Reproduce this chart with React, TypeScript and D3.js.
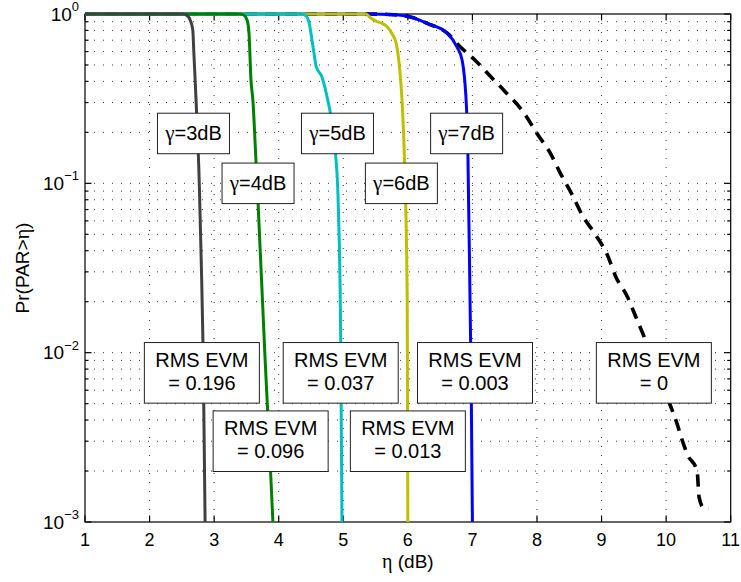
import React from "react";
import * as d3 from "d3";

// Canvas and plot frame
const WIDTH = 741;
const HEIGHT = 582;
const PLOT = { left: 85, right: 730.7, top: 14, bottom: 522 };

// Axis ticks
const etaTicks = [1, 2, 3, 4, 5, 6, 7, 8, 9, 10, 11];
const probDecades = [1e-3, 1e-2, 1e-1, 1];
const decadeExponents = ["\u22123", "\u22122", "\u22121", "0"];

// CCDF of the peak-to-average ratio for each clipping level (eta in dB, probability)
const gamma3Eta = [1, 2.52, 2.58, 2.63, 2.67, 2.685, 2.72, 2.77, 2.8, 2.83, 2.86];
const gamma3Prob = [1, 1, 0.98, 0.92, 0.8, 0.6, 0.31, 0.1, 0.035, 0.01, 0.001];

const gamma4Eta = [1, 3.4, 3.45, 3.51, 3.54, 3.57, 3.6, 3.65, 3.68, 3.79, 3.86, 3.91];
const gamma4Prob = [1, 1, 0.99, 0.92, 0.77, 0.41, 0.31, 0.13, 0.077, 0.009, 0.0026, 0.001];

const gamma5Eta = [1, 4.35, 4.4, 4.46, 4.54, 4.58, 4.67, 4.76, 4.8, 4.88, 4.92, 4.96, 4.98];
const gamma5Prob = [1, 1, 0.99, 0.92, 0.61, 0.49, 0.425, 0.31, 0.26, 0.15, 0.08, 0.012, 0.001];

const gamma6Eta = [1, 5.35, 5.42, 5.5, 5.6, 5.68, 5.75, 5.82, 5.87, 5.91, 5.95, 5.99, 6.0];
const gamma6Prob = [1, 1, 0.95, 0.91, 0.88, 0.84, 0.77, 0.67, 0.49, 0.31, 0.13, 0.02, 0.001];

const gamma7Eta = [1, 5.4, 5.78, 6.04, 6.3, 6.61, 6.76, 6.84, 6.88, 6.91, 6.93, 6.94, 6.98, 7.0];
const gamma7Prob = [1, 1, 0.99, 0.96, 0.88, 0.77, 0.64, 0.535, 0.41, 0.27, 0.151, 0.08, 0.007, 0.001];

// Unclipped signal
const unclippedEta = [
  1, 5.4, 5.78, 6.04, 6.3, 6.61, 6.81, 7.05, 7.3, 7.5, 7.8, 8.0, 8.21, 8.36, 8.55, 8.7,
  8.91, 9.09, 9.22, 9.4, 9.53, 9.66, 9.9, 10.1, 10.17, 10.23, 10.33, 10.48, 10.51, 10.59, 10.66,
];
const unclippedProb = [
  1, 1, 0.99, 0.96, 0.88, 0.77, 0.64, 0.53, 0.42, 0.35, 0.26, 0.197, 0.15, 0.115, 0.085, 0.065,
  0.0495, 0.0377, 0.0281, 0.0214, 0.0163, 0.0124, 0.007, 0.0045, 0.0038, 0.0032, 0.0025, 0.002,
  0.0014, 0.0012, 0.0012,
];

// Annotation texts
const gammaLabels = ["3dB", "4dB", "5dB", "6dB", "7dB"];
const evmValues = ["0.196", "0.096", "0.037", "0.013", "0.003", "0"];

// Annotation anchors (box centres, data coordinates)
const gammaAnchorEta = [2.68, 3.68, 4.91, 5.9, 6.91];
const gammaAnchorProb = [0.197, 0.1, 0.197, 0.1, 0.197];
const evmAnchorEta = [2.81, 3.875, 4.96, 6.0, 7.04, 9.81];
const evmAnchorProb = [0.0076, 0.003, 0.0076, 0.003, 0.0076, 0.0076];

const SANS = "'Liberation Sans', Arial, Helvetica, sans-serif";
const GREEK = "'Liberation Serif', 'DejaVu Serif', serif";

const x = d3.scaleLinear().domain([1, 11]).range([PLOT.left, PLOT.right]);
const y = d3.scaleLog().domain([1e-3, 1]).range([PLOT.bottom, PLOT.top]);

const zip = (eta: number[], prob: number[]) => eta.map((e, i) => [e, prob[i]] as [number, number]);

const smoothLine = d3
  .line<[number, number]>()
  .x((d) => x(d[0]))
  .y((d) => y(d[1]))
  .curve(d3.curveMonotoneX);

const minorProbs: number[] = [];
for (let e = -3; e < 0; e++) {
  for (let k = 2; k <= 9; k++) minorProbs.push(k * Math.pow(10, e));
}

// Drawn back to front so the lower clipping levels sit on top at Pr = 1
const clippedSeries = [
  { eta: gamma7Eta, prob: gamma7Prob, color: "#0000ff" },
  { eta: gamma6Eta, prob: gamma6Prob, color: "#bfbf00" },
  { eta: gamma5Eta, prob: gamma5Prob, color: "#00bfbf" },
  { eta: gamma4Eta, prob: gamma4Prob, color: "#008000" },
  { eta: gamma3Eta, prob: gamma3Prob, color: "#404040" },
];

const GRID = { stroke: "#3a3a3a", strokeWidth: 1, strokeDasharray: "1,8" };

export default function App() {
  const gammaBoxW = 72;
  const gammaBoxH = 40.5;
  const evmBoxW = 115;
  const evmBoxH = 60.6;

  return (
    <svg width={WIDTH} height={HEIGHT} style={{ display: "block", position: "absolute", left: 0, top: 0 }}>
      <rect x={0} y={0} width={WIDTH} height={HEIGHT} fill="#ffffff" />

      {/* grid */}
      <g>
        {etaTicks.slice(1, -1).map((t) => (
          <line key={"gx" + t} x1={x(t)} x2={x(t)} y1={PLOT.top} y2={PLOT.bottom} {...GRID} />
        ))}
        {[...probDecades.slice(1, -1), ...minorProbs].map((p) => (
          <line key={"gy" + p} x1={PLOT.left} x2={PLOT.right} y1={y(p)} y2={y(p)} {...GRID} />
        ))}
      </g>

      {/* frame and ticks */}
      <g stroke="#000" strokeWidth={1.2} fill="none">
        <rect x={PLOT.left} y={PLOT.top} width={PLOT.right - PLOT.left} height={PLOT.bottom - PLOT.top} />
        {etaTicks.map((t) => (
          <g key={"tx" + t}>
            <line x1={x(t)} x2={x(t)} y1={PLOT.bottom} y2={PLOT.bottom - 6.5} />
            <line x1={x(t)} x2={x(t)} y1={PLOT.top} y2={PLOT.top + 6.5} />
          </g>
        ))}
        {probDecades.map((p) => (
          <g key={"ty" + p}>
            <line x1={PLOT.left} x2={PLOT.left + 6.5} y1={y(p)} y2={y(p)} />
            <line x1={PLOT.right} x2={PLOT.right - 6.5} y1={y(p)} y2={y(p)} />
          </g>
        ))}
        {minorProbs.map((p) => (
          <g key={"tm" + p}>
            <line x1={PLOT.left} x2={PLOT.left + 3.5} y1={y(p)} y2={y(p)} />
            <line x1={PLOT.right} x2={PLOT.right - 3.5} y1={y(p)} y2={y(p)} />
          </g>
        ))}
      </g>

      {/* unclipped reference curve */}
      <path
        d={smoothLine(zip(unclippedEta, unclippedProb)) || ""}
        fill="none"
        stroke="#000"
        strokeWidth={3.6}
        strokeDasharray="12,8"
      />

      {/* clipped curves */}
      {clippedSeries.map((s) => (
        <path
          key={s.color}
          d={smoothLine(zip(s.eta, s.prob)) || ""}
          fill="none"
          stroke={s.color}
          strokeWidth={3}
          strokeLinejoin="round"
        />
      ))}

      {/* gamma annotations */}
      {gammaLabels.map((lab, i) => {
        const cx = x(gammaAnchorEta[i]);
        const cy = y(gammaAnchorProb[i]);
        return (
          <g key={"gl" + i}>
            <rect
              x={cx - gammaBoxW / 2}
              y={cy - gammaBoxH / 2}
              width={gammaBoxW}
              height={gammaBoxH}
              fill="#fff"
              stroke="#222"
              strokeWidth={1}
            />
            <text x={cx} y={cy + 7} textAnchor="middle" fontFamily={SANS} fontSize={20} fill="#000">
              <tspan fontFamily={GREEK} fontSize={21}>γ</tspan>
              <tspan>={lab}</tspan>
            </text>
          </g>
        );
      })}

      {/* EVM annotations */}
      {evmValues.map((v, i) => {
        const cx = x(evmAnchorEta[i]);
        const cy = y(evmAnchorProb[i]);
        return (
          <g key={"ev" + i}>
            <rect
              x={cx - evmBoxW / 2}
              y={cy - evmBoxH / 2}
              width={evmBoxW}
              height={evmBoxH}
              fill="#fff"
              stroke="#222"
              strokeWidth={1}
            />
            <text x={cx} y={cy - 6.3} textAnchor="middle" fontFamily={SANS} fontSize={20} fill="#000">
              RMS EVM
            </text>
            <text x={cx} y={cy + 17} textAnchor="middle" fontFamily={SANS} fontSize={20} fill="#000">
              = {v}
            </text>
          </g>
        );
      })}

      {/* x tick labels */}
      {etaTicks.map((t) => (
        <text key={"xl" + t} x={x(t)} y={546} textAnchor="middle" fontFamily={SANS} fontSize={18} fill="#000">
          {t}
        </text>
      ))}

      {/* y tick labels */}
      {probDecades.map((p, i) => (
        <text key={"yl" + p} x={79} y={y(p) + 6.5} textAnchor="end" fontFamily={SANS} fontSize={19} fill="#000">
          <tspan>10</tspan>
          <tspan fontSize={13} dy={-9.5}>
            {decadeExponents[i]}
          </tspan>
        </text>
      ))}

      {/* axis titles */}
      <text
        x={(PLOT.left + PLOT.right) / 2}
        y={568}
        textAnchor="middle"
        fontFamily={SANS}
        fontSize={19}
        fill="#000"
      >
        <tspan fontFamily={GREEK} fontSize={20}>η</tspan>
        <tspan> (dB)</tspan>
      </text>
      <text
        transform={`translate(29,${(PLOT.top + PLOT.bottom) / 2}) rotate(-90)`}
        textAnchor="middle"
        fontFamily={SANS}
        fontSize={19}
        fill="#000"
      >
        <tspan>Pr(PAR&gt;</tspan>
        <tspan fontFamily={GREEK} fontSize={20}>η</tspan>
        <tspan>)</tspan>
      </text>
    </svg>
  );
}
